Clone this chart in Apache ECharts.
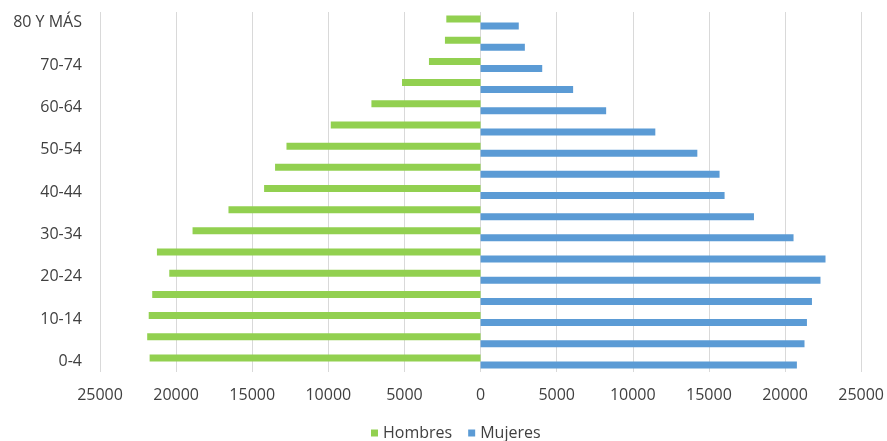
<!DOCTYPE html>
<html>
<head>
<meta charset="utf-8">
<script src="https://cdn.jsdelivr.net/npm/echarts@6/dist/echarts.min.js"></script>
<style>html,body{margin:0;padding:0;background:#fff}#c{width:887px;height:441px}</style>
</head>
<body>
<div id="c"></div>
<script>
var categories = ['0-4','5-9','10-14','15-19','20-24','25-29','30-34','35-39','40-44','45-49','50-54','55-59','60-64','65-69','70-74','75-79','80 Y MÁS'];
var hombres = [21740,21900,21800,21570,20450,21260,18920,16560,14220,13500,12750,9840,7170,5160,3390,2340,2250];
var mujeres = [20780,21280,21440,21770,22330,22660,20560,17960,16030,15700,14240,11480,8250,6080,4050,2910,2510];
var xTicks = [-25000,-20000,-15000,-10000,-5000,0,5000,10000,15000,20000,25000];

var chart = echarts.init(document.getElementById('c'), null, {renderer:'canvas'});
var font = '"Open Sans", sans-serif';
chart.setOption({
  animation: false,
  backgroundColor: '#ffffff',
  grid: {left: 100, right: 24, top: 12, bottom: 69, containLabel: false},
  legend: {
    data: ['Hombres','Mujeres'],
    bottom: -5,
    left: 366,
    icon: 'rect',
    itemWidth: 7, itemHeight: 7, itemGap: 16, itemTextGap: 6,
    textStyle: {fontFamily: font, fontSize: 16, color: '#404040'}
  },
  xAxis: {
    type: 'value',
    min: xTicks[0], max: xTicks[xTicks.length-1], interval: 5000,
    axisLine: {show: false}, axisTick: {show: false},
    splitLine: {show: true, lineStyle: {color: '#d9d9d9', width: 1}},
    axisLabel: {
      margin: 15,
      fontFamily: font, fontSize: 16, color: '#404040',
      formatter: function(v){ return String(Math.abs(v)); }
    }
  },
  yAxis: {
    type: 'category',
    data: categories,
    axisLine: {show: false}, axisTick: {show: false},
    axisLabel: {interval: 1, margin: 18, fontFamily: font, fontSize: 16, color: '#404040'}
  },
  series: [
    {
      name: 'Hombres', type: 'bar', barWidth: 7, barGap: '0%',
      itemStyle: {color: '#92D050'},
      data: hombres.map(function(v){ return -v; })
    },
    {
      name: 'Mujeres', type: 'bar', barWidth: 7, barGap: '0%',
      itemStyle: {color: '#5B9BD5'},
      data: mujeres
    }
  ]
});
</script>
</body>
</html>
